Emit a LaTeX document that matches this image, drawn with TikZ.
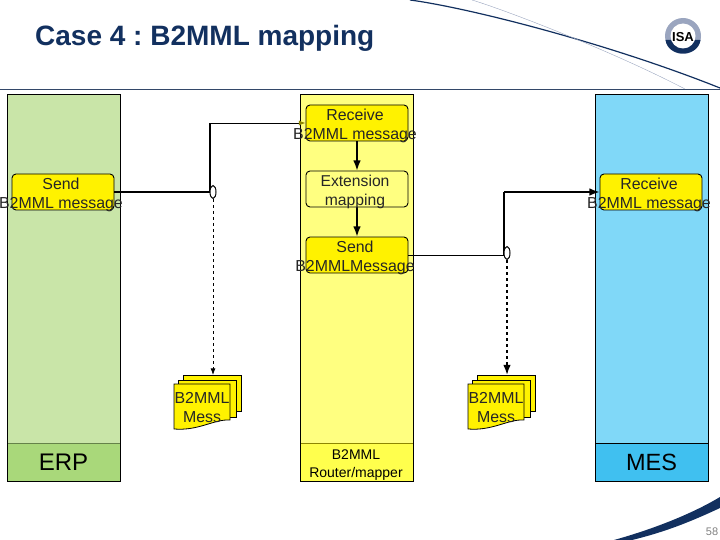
\documentclass[tikz,border=0pt]{standalone}
\usepackage{fontspec}
\setmainfont{Liberation Sans}
\usetikzlibrary{arrows.meta,calc,shapes.geometric}
\definecolor{erptop}{HTML}{C9E5A8}
\definecolor{erpbot}{HTML}{A9D87A}
\definecolor{midtop}{HTML}{FFFF80}
\definecolor{midbot}{HTML}{FFFF4D}
\definecolor{mestop}{HTML}{80D8F8}
\definecolor{mesbot}{HTML}{40C0F0}
\definecolor{navy}{HTML}{12305F}
\definecolor{ringgrey}{HTML}{9AA5BF}
\frenchspacing
\tikzset{
  lane/.style={draw, minimum width=113pt, minimum height=349pt, inner sep=0pt},
  lanefoot/.style={draw, minimum width=113pt, minimum height=38pt, inner sep=0pt, align=center},
  msgbox/.style={draw, line width=0.9pt, rounded corners=4pt, fill=yellow, minimum width=102pt, minimum height=36pt, inner sep=0pt},
  msgtext/.style={font=\fontsize{15.9}{19.5}\selectfont, align=center, inner sep=0pt, text=black!85},
  gateway/.style={draw, ellipse, fill=white, minimum width=6pt, minimum height=13pt, inner sep=0pt, line width=1pt},
  thickline/.style={line width=1.6pt},
  thinline/.style={line width=0.8pt},
  page/.style={draw, fill=yellow, line width=0.8pt},
  pics/messdoc/.style={code={
    \path[page] (9,-9) -- (67,-9) -- (67,27) -- (9,27) -- cycle;
    \path[page] (4,-4) -- (62,-4) -- (62,33) -- (4,33) -- cycle;
    \path[page] (0,0) -- (56,0) -- (56,36) .. controls (40,35) and (25,47) .. (0,45) -- cycle;
    \coordinate (-top) at (39,-9);
    \node[msgtext] (-text) at (28,23.5) {B2MML\\Mess};
  }}
}
\begin{document}
\begin{tikzpicture}[x=1pt, y=-1pt, >=Latex]
  \useasboundingbox (0,0) rectangle (720,540);
  % header
  \node[anchor=base west, inner sep=0pt, text=navy, font=\fontsize{28}{30}\selectfont\bfseries] (title) at (35,46) {Case 4 : B2MML mapping};
  \draw[navy!70!gray, line width=0.8pt] (0,89) -- (720,89);
  \draw[navy, line width=1.2pt] (410,0) .. controls (470,8) and (610,44) .. (720,88);
  \draw[ringgrey, line width=0.4pt] (472,0) .. controls (505,10) and (610,50) .. (685,89);
  \fill[ringgrey] (683,36) circle (18);
  \fill[navy] (665.5,40) .. controls (668,58) and (698,58) .. (700.5,40) -- cycle;
  \fill[white] (683,36) circle (12.5);
  \node[font=\fontsize{13}{13}\selectfont\bfseries, inner sep=0pt] (isa) at (683,37) {ISA};
  % footer
  \fill[navy] (614,540) .. controls (650,530) and (690,515) .. (720,497) -- (720,508) .. controls (690,522) and (665,532) .. (632,540) -- cycle;
  \node[text=gray, font=\fontsize{11}{11}\selectfont, inner sep=0pt] (pageno) at (712,532) {58};
  % lanes
  \node[lane, fill=erptop] (erp) at (63.5,268.5) {};
  \node[lane, fill=midtop] (router) at (357,268.5) {};
  \node[lane, fill=mestop] (mes) at (651.5,268.5) {};
  \node[lanefoot, fill=erpbot, draw=erpbot!60!black, font=\fontsize{24}{24}\selectfont] (erpfoot) at (63.5,462) {ERP};
  \node[lanefoot, fill=midbot, draw=olive] (routerfoot) at (357,462) {};
  \node[font=\fontsize{14}{17.5}\selectfont, align=center, inner sep=0pt] (routertxt) at (356,465) {B2MML\\Router/mapper};
  \node[lanefoot, fill=mesbot, font=\fontsize{23.5}{24}\selectfont] (mesfoot) at (651.5,462) {MES};
  \draw[line width=0.7pt] (7,94) rectangle (120,481);
  \draw[line width=0.7pt] (300.5,94) rectangle (413.5,481);
  \draw[line width=0.7pt] (595,94) rectangle (708,481);
  % steps
  \node[msgbox] (send) at (63,192) {};
  \node[msgbox] (recv) at (357,123) {};
  \node[msgbox, fill=midtop] (ext) at (357,189) {};
  \node[msgbox] (sendmsg) at (357,255) {};
  \node[msgbox] (recvmes) at (651,192) {};
  % connectors
  \coordinate (kneea) at (210,123);
  \coordinate (kneeb) at (504,192);
  \coordinate (jointa) at (210,192);
  \coordinate (jointb) at (504,255);
  \draw[thickline] (send.east) -- (jointa);
  \draw[thickline] (jointa) -- (kneea);
  \draw[thinline, ->, >={Latex[olive]}] (kneea) -- (recv.west);
  \draw[thinline] (sendmsg.east) -- (jointb);
  \draw[thickline] (jointb) -- (kneeb);
  \draw[thickline, ->] (kneeb) -- (recvmes.west);
  \draw[thickline, ->] (recv.south) -- (ext.north);
  \draw[thickline, ->] (ext.south) -- (sendmsg.north);
  \node[gateway] (gwa) at (213,192) {};
  \node[gateway] (gwb) at (507,253) {};
  \pic (doca) at (174,384) {messdoc};
  \pic (docb) at (468,384) {messdoc};
  \draw[thinline, dashed, ->] (gwa.south) -- (gwa.south |- doca-top);
  \draw[thickline, dashed, ->] (gwb.south) -- (gwb.south |- docb-top);
  % labels run past the boxes
  \node[msgtext] (sendtxt) at (61,195) {Send\\B2MML message};
  \node[msgtext] (recvtxt) at (355,126) {Receive\\B2MML message};
  \node[msgtext, font=\fontsize{15.7}{19.5}\selectfont] (exttxt) at (355,192) {Extension\\mapping};
  \node[msgtext] (sendmsgtxt) at (355,258) {Send\\B2MMLMessage};
  \node[msgtext] (recvmestxt) at (649,195) {Receive\\B2MML message};
\end{tikzpicture}
\end{document}
